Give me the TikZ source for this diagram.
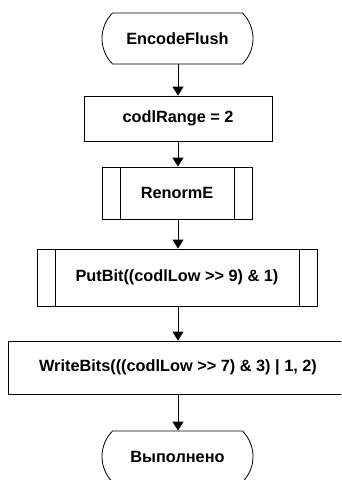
\documentclass[tikz,border=0pt]{standalone}
\usepackage{fontspec}
\setmainfont{Liberation Sans}
\usetikzlibrary{shapes.misc,arrows.meta}
\tikzset{
  base/.style={draw=black, line width=0.8pt, fill=white, inner sep=0pt,
    font=\fontsize{16.3}{18}\selectfont\bfseries},
  term/.style={base, rounded rectangle, rounded rectangle arc length=90,
    minimum width=151pt, minimum height=51pt},
  proc/.style={base, rectangle},
  subr/.style={base, rectangle, path picture={
    \draw[line width=0.8pt] ([xshift=18pt]path picture bounding box.north west) -- ([xshift=18pt]path picture bounding box.south west);
    \draw[line width=0.8pt] ([xshift=-18pt]path picture bounding box.north east) -- ([xshift=-18pt]path picture bounding box.south east);}},
  flow/.style={draw=black, line width=0.8pt, -{Triangle[width=11pt,length=9pt]}}
}
\begin{document}
\begin{tikzpicture}[x=1pt,y=-1pt]
\useasboundingbox (0,0) rectangle (341,480);
\clip (0,0) rectangle (341,480);
\node[term] (start) at (177.5,38.5) {EncodeFlush};
\node[proc, minimum width=188pt, minimum height=45pt] (range) at (178,118.5) {codlRange = 2};
\node[subr, minimum width=150pt, minimum height=52pt] (renorm) at (177,193) {RenormE};
\node[subr, minimum width=280pt, minimum height=57pt] (putbit) at (177,277.5) {PutBit((codlLow >{}> 9) \& 1)};
\node[proc, minimum width=340pt, minimum height=53pt] (write) at (178,367.5) {WriteBits(((codlLow >{}> 7) \& 3) | 1, 2)};
\node[term] (done) at (177.5,456.5) {Выполнено};
\draw[flow] (start.south -| 178,0) -- (range.north -| 178,0);
\draw[flow] (range.south -| 178,0) -- (renorm.north -| 178,0);
\draw[flow] (renorm.south -| 178,0) -- (putbit.north -| 178,0);
\draw[flow] (putbit.south -| 178,0) -- (write.north -| 178,0);
\draw[flow] (write.south -| 178,0) -- (done.north -| 178,0);
\end{tikzpicture}
\end{document}
